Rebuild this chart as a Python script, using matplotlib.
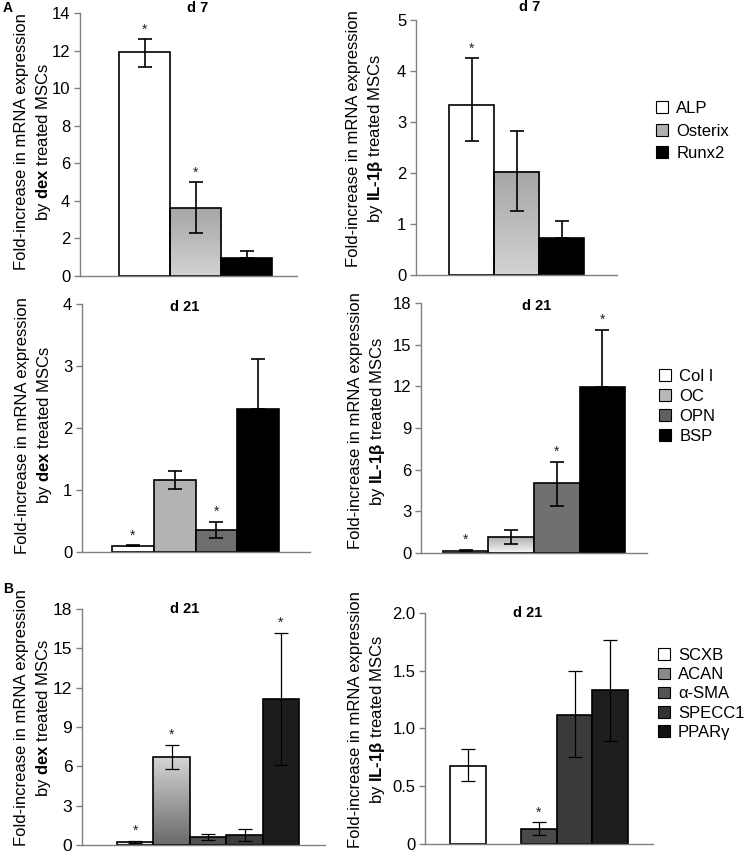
import numpy as np
import matplotlib
matplotlib.use("Agg")
import matplotlib.pyplot as plt
from matplotlib.colors import LinearSegmentedColormap
from matplotlib.patches import Patch

plt.rcParams['font.family'] = ['Liberation Sans', 'DejaVu Sans']
plt.rcParams['mathtext.fontset'] = 'custom'
plt.rcParams['mathtext.rm'] = 'Liberation Sans'
plt.rcParams['mathtext.bf'] = 'Liberation Sans:bold'

# ---- data ----
d7_genes = ["ALP", "Osterix", "Runx2"]
d7_dex_mean = [11.90, 3.62, 0.94]
d7_dex_lo = [0.78, 1.31, 0.0]
d7_dex_hi = [0.71, 1.37, 0.41]
d7_dex_sig = [True, True, False]

d7_il_mean = [3.34, 2.03, 0.72]
d7_il_lo = [0.72, 0.78, 0.0]
d7_il_hi = [0.91, 0.80, 0.33]
d7_il_sig = [True, False, False]

d21_genes = ["Col I", "OC", "OPN", "BSP"]
d21_dex_mean = [0.10, 1.16, 0.35, 2.31]
d21_dex_lo = [0.01, 0.15, 0.13, 0.0]
d21_dex_hi = [0.01, 0.15, 0.14, 0.80]
d21_dex_sig = [True, False, True, False]

d21_il_mean = [0.12, 1.15, 5.02, 11.93]
d21_il_lo = [0.0, 0.48, 1.66, 0.0]
d21_il_hi = [0.12, 0.48, 1.56, 4.15]
d21_il_sig = [True, False, True, True]

teno_genes = ["SCXB", "ACAN", "α-SMA", "SPECC1", "PPARγ"]
teno_dex_mean = [0.20, 6.70, 0.58, 0.77, 11.13]
teno_dex_lo = [0.08, 0.92, 0.23, 0.47, 5.05]
teno_dex_hi = [0.13, 0.93, 0.22, 0.45, 5.07]
teno_dex_sig = [True, True, False, False, True]

teno_il_mean = [0.674, 0.0, 0.129, 1.119, 1.334]
teno_il_lo = [0.132, 0.0, 0.052, 0.367, 0.444]
teno_il_hi = [0.150, 0.0, 0.058, 0.379, 0.436]
teno_il_sig = [False, False, True, False, False]

lab_dex = "Fold-increase in mRNA expression\nby $\\mathbf{dex}$ treated MSCs"
lab_il = "Fold-increase in mRNA expression\nby $\\mathbf{IL‐1β}$ treated MSCs"


def grad_fill(ax, bar, top, bottom):
    # paint a vertical gradient inside a bar
    x0, y0 = bar.get_x(), bar.get_y()
    w, h = bar.get_width(), bar.get_height()
    cmap = LinearSegmentedColormap.from_list("g", [bottom, top])
    ax.imshow(np.linspace(0, 1, 64).reshape(-1, 1), cmap=cmap, origin='lower',
              extent=[x0, x0 + w, y0, y0 + h], aspect='auto', zorder=1.5)
    bar.set_facecolor('none')


def panel(ax, mean, lo, hi, sig, colors, grads, ticks, ticklabels, xlim, title,
          title_xy, ylabel, label_xy, fs=12, elw=1.2):
    x = np.arange(len(mean))
    bars = ax.bar(x, mean, width=1.0, color=colors, edgecolor='black',
                  linewidth=1.2, zorder=2)
    for i, (top, bottom) in grads.items():
        grad_fill(ax, bars[i], top, bottom)
    for i in range(len(mean)):
        if mean[i] == 0:
            bars[i].set_visible(False)
            continue
        ax.errorbar(x[i], mean[i], yerr=[[lo[i]], [hi[i]]], fmt='none',
                    ecolor='black', elinewidth=elw, capsize=5, capthick=elw,
                    zorder=3)
        if sig[i]:
            ax.annotate('*', (x[i], mean[i] + hi[i]), xytext=(0, 2),
                        textcoords='offset points', ha='center', va='bottom',
                        fontsize=10, color='#222222')
    ax.set_xlim(*xlim)
    ax.set_ylim(ticks[0], ticks[-1])
    ax.set_yticks(ticks)
    ax.set_yticklabels(ticklabels, fontsize=fs)
    ax.set_xticks([])
    for s in ['top', 'right']:
        ax.spines[s].set_visible(False)
    for s in ['left', 'bottom']:
        ax.spines[s].set_color('#808080')
        ax.spines[s].set_linewidth(1.0)
    ax.tick_params(axis='y', length=4, width=1.0, color='#808080', pad=3)
    ax.text(title_xy[0], title_xy[1], title, transform=ax.transAxes,
            ha='center', va='center', fontsize=10.5, fontweight='bold')
    ax.set_ylabel(ylabel, fontsize=12, linespacing=1.35)
    ax.yaxis.set_label_coords(*label_xy)


fig = plt.figure(figsize=(7.45, 8.56), dpi=100)

ax1 = fig.add_axes([0.1074, 0.6776, 0.2913, 0.3072])
ax2 = fig.add_axes([0.5584, 0.6787, 0.2698, 0.2979])
ax3 = fig.add_axes([0.1101, 0.3551, 0.3060, 0.2897])
ax4 = fig.add_axes([0.5651, 0.3540, 0.3034, 0.2921])
ax5 = fig.add_axes([0.1101, 0.0130, 0.3262, 0.2756])
ax6 = fig.add_axes([0.5705, 0.0140, 0.3060, 0.2699])

t14 = list(range(0, 15, 2))
t5 = list(range(0, 6))
t4 = list(range(0, 5))
t18 = list(range(0, 19, 3))
t2 = [0, 0.5, 1.0, 1.5, 2.0]

panel(ax1, d7_dex_mean, d7_dex_lo, d7_dex_hi, d7_dex_sig,
      ['white', '#bbbbbb', 'black'], {1: ('#a6a6a6', '#d2d2d2')},
      t14, [str(t) for t in t14], (-1.265, 2.99), "d 7", (0.544, 1.019),
      lab_dex, (-0.124, 0.51))
panel(ax2, d7_il_mean, d7_il_lo, d7_il_hi, d7_il_sig,
      ['white', '#bbbbbb', 'black'], {1: ('#a6a6a6', '#d2d2d2')},
      t5, [str(t) for t in t5], (-1.233, 3.233), "d 7", (0.567, 1.051),
      lab_il, (-0.154, 0.537))
panel(ax3, d21_dex_mean, d21_dex_lo, d21_dex_hi, d21_dex_sig,
      ['white', '#b3b3b3', '#6e6e6e', 'black'], {},
      t4, [str(t) for t in t4], (-1.22, 4.24), "d 21", (0.452, 0.988),
      lab_dex, (-0.123, 0.512))
panel(ax4, d21_il_mean, d21_il_lo, d21_il_hi, d21_il_sig,
      ['white', '#cccccc', '#707070', 'black'], {1: ('#b0b0b0', '#f6f6f6')},
      t18, [str(t) for t in t18], (-0.98, 3.98), "d 21", (0.513, 0.988),
      lab_il, (-0.150, 0.528))
panel(ax5, teno_dex_mean, teno_dex_lo, teno_dex_hi, teno_dex_sig,
      ['#e6e6e6', '#999999', '#505050', '#3c3c3c', '#1c1c1c'],
      {1: ('#d4d4d4', '#6a6a6a')},
      t18, [str(t) for t in t18], (-1.46, 5.21), "d 21", (0.424, 1.0),
      lab_dex, (-0.119, 0.54), fs=12.5, elw=0.9)
panel(ax6, teno_il_mean, teno_il_lo, teno_il_hi, teno_il_sig,
      ['white', '#999999', '#4a4a4a', '#3a3a3a', '#1e1e1e'], {},
      t2, ["0", "0.5", "1.0", "1.5", "2.0"], (-1.2, 5.2), "d 21", (0.452, 1.0),
      lab_il, (-0.167, 0.54), elw=0.9)

fig.text(0.004, 0.999, "A", fontsize=10, fontweight='bold', va='top')
fig.text(0.004, 1 - 582 / 856, "B", fontsize=10, fontweight='bold', va='top')


def legend(labels, colors, anchor, spacing):
    handles = [Patch(facecolor=c, edgecolor='black', linewidth=0.8) for c in colors]
    fig.legend(handles, labels, loc='upper left', bbox_to_anchor=anchor,
               frameon=False, fontsize=12, handlelength=0.7, handleheight=0.7,
               handletextpad=0.5, labelspacing=spacing, borderaxespad=0,
               borderpad=0)


legend(d7_genes, ['white', '#b0b0b0', 'black'], (0.881, 1 - 101 / 856), 0.45)
legend(d21_genes, ['white', '#b8b8b8', '#606060', 'black'],
       (0.885, 1 - 369 / 856), 0.3)
legend(teno_genes, ['white', '#8a8a8a', '#555555', '#333333', '#111111'],
       (0.883, 1 - 648 / 856), 0.25)

fig.savefig("out.png", dpi=100)
